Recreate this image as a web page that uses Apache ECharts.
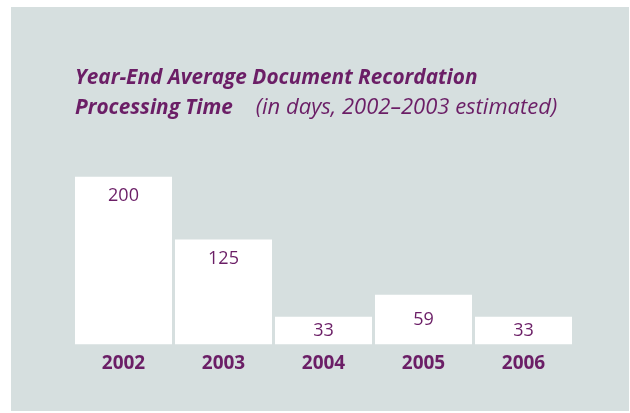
<!DOCTYPE html>
<html><head><meta charset="utf-8">
<script src="https://cdn.jsdelivr.net/npm/echarts@6/dist/echarts.min.js"></script>
<style>html,body{margin:0;padding:0;background:#fff}#c{width:630px;height:413px}</style>
</head><body><div id="c"></div>
<script>
const categories = ['2002', '2003', '2004', '2005', '2006'];
const values = [200, 125, 33, 59, 33];
const titleLine1 = 'Year-End Average Document Recordation';
const titleLine2 = 'Processing Time';
const subtitle = '(in days, 2002–2003 estimated)';

const purple = '#6b1e66';
const chart = echarts.init(document.getElementById('c'), null, {renderer: 'canvas'});
chart.setOption({
  backgroundColor: '#ffffff',
  animation: false,
  graphic: [{
    type: 'rect', z: -10, silent: true,
    shape: {x: 11, y: 7, width: 618, height: 404},
    style: {fill: '#d6dfdf'}
  }],
  title: {
    left: 70, top: 58,
    text: '{b|' + titleLine1 + '}\n{b|' + titleLine2 + '}{i|    ' + subtitle + '}',
    textStyle: {
      rich: {
        b: {fontFamily: 'Open Sans', fontWeight: 'bold', fontStyle: 'italic', fontSize: 20.8, color: purple, lineHeight: 30},
        i: {fontFamily: 'Open Sans', fontWeight: 'normal', fontStyle: 'italic', fontSize: 22, color: purple, lineHeight: 30}
      }
    }
  },
  grid: {left: 73.5, width: 500, top: 176.7, height: 167.6},
  xAxis: {
    type: 'category', data: categories,
    axisLine: {show: false}, axisTick: {show: false}, splitLine: {show: false},
    axisLabel: {color: purple, fontFamily: 'Open Sans', fontWeight: 'bold', fontSize: 19, margin: 9, lineHeight: 20}
  },
  yAxis: {type: 'value', min: 0, max: 200, show: false, splitLine: {show: false}},
  series: [{
    type: 'bar', barCategoryGap: '3%',
    itemStyle: {color: '#ffffff'},
    label: {show: true, color: purple, fontFamily: 'Open Sans', fontSize: 18, lineHeight: 20, distance: 9.5},
    data: values.map(v => ({value: v, label: {position: v < 60 ? 'inside' : 'insideTop'}}))
  }]
});
</script></body></html>
